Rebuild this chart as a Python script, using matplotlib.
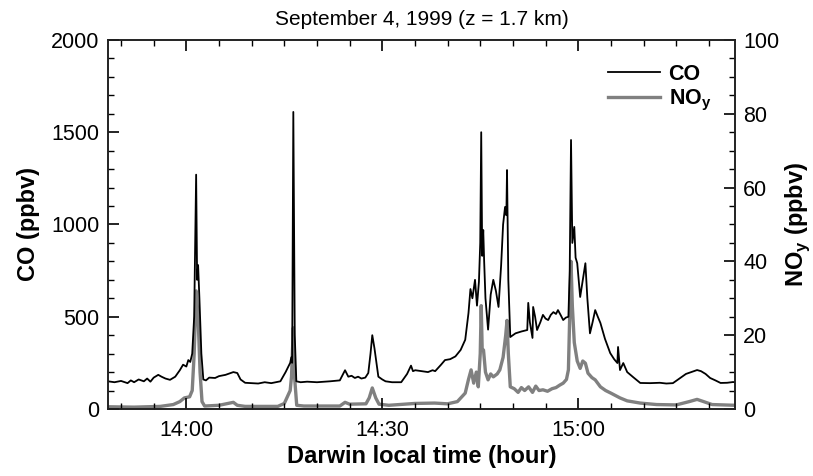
import numpy as np
import matplotlib
matplotlib.use("Agg")
import matplotlib.pyplot as plt
from matplotlib.ticker import MultipleLocator, FixedLocator

plt.rcParams['font.family'] = ['Liberation Sans', 'DejaVu Sans']

# time in minutes after 14:00 local time
t_co = [-12, -11, -10, -9, -8.5, -8, -7.3, -6.5, -6, -5.5, -5, -4.3, -3.8, -3.2, -2.5,
        -1.7, -1, -0.5, 0, 0.3, 0.6, 0.9, 1.2, 1.5, 1.65, 1.8, 2.0, 2.3, 2.6, 3, 3.5,
        4.4, 5, 6, 7.2, 7.8, 8.3, 9, 10, 11, 12, 13, 14.4, 15.2, 15.9, 16.07, 16.2,
        16.38, 16.6, 16.84, 17.5, 18.5, 20, 22, 23.5, 24.3, 24.8, 25.3, 25.8, 26.3,
        26.8, 27.4, 27.86, 28.2, 28.47, 28.8, 29.4, 30, 30.5, 31.5, 32.9, 33.8, 34.4,
        34.7, 35.05, 36, 37, 37.7, 38.1, 39, 39.6, 40.4, 41.2, 42, 42.7, 43.2, 43.5,
        43.8, 44.2, 44.5, 44.8, 45.0, 45.15, 45.3, 45.46, 45.6, 45.8, 46.2, 46.6, 47.0,
        47.4, 47.8, 48.2, 48.5, 48.8, 49.0, 49.1, 49.3, 49.6, 50.4, 51.3, 52.2, 52.35,
        52.6, 53.0, 53.1, 53.4, 53.7, 54.2, 54.6, 55.0, 55.4, 55.8, 56.2, 56.6, 56.9,
        57.3, 57.7, 58.1, 58.5, 58.7, 58.9, 59.1, 59.4, 59.6, 59.85, 60.3, 60.7, 61.1,
        61.4, 61.8, 62.2, 62.6, 63.0, 63.4, 64.1, 64.9, 65.5, 66.0, 66.1, 66.4, 66.9,
        67.5, 68.4, 69.5, 71, 72.5, 73.5, 74.5, 75.5, 76.5, 77.3, 78.2, 78.8, 79.5,
        80.2, 81, 81.8, 82.8, 83.7, 84]
co = [150, 145, 152, 140, 155, 145, 160, 150, 165, 148, 170, 185, 175, 165, 158,
      175, 210, 240, 230, 265, 255, 300, 500, 1270, 700, 780, 600, 300, 160, 155, 170,
      168, 178, 185, 200, 195, 160, 142, 140, 138, 145, 140, 150, 200, 250, 280, 250,
      1610, 400, 150, 145, 148, 145, 150, 155, 210, 175, 180, 168, 175,
      165, 170, 195, 300, 400, 330, 175, 160, 150, 145, 145, 190, 235,
      205, 210, 205, 200, 210, 205, 240, 265, 270, 285, 320, 375, 520, 650,
      600, 700, 560, 690, 900, 1500, 830, 970, 800, 600, 430, 620, 700,
      640, 553, 780, 1000, 1095, 1050, 1295, 700, 390, 410, 420, 428, 575,
      470, 385, 553, 500, 428, 470, 510, 490, 482, 510, 525, 515, 536,
      510, 482, 495, 500, 750, 1458, 900, 987, 820, 790, 607, 700, 790,
      600, 410, 470, 536, 500, 466, 380, 303, 270, 249, 336, 211, 249,
      200, 173, 141, 140, 142, 138, 140, 165, 190, 200, 211, 205, 190,
      168, 155, 141, 142, 146, 145]

t_noy = [-12, -8, -4, -2, -1, -0.3, 0.5, 0.9, 1.2, 1.5, 1.8, 2.1, 2.4, 2.8, 5, 7.2,
         7.8, 9, 14, 15, 15.9, 16.1, 16.38, 16.6, 16.9, 18, 23.5, 24.3, 25, 27.5, 28.0,
         28.47, 29, 29.5, 31, 35, 38, 40, 41.5, 42.7, 43.2, 43.6, 44, 44.4, 44.7, 45.0,
         45.15, 45.3, 45.5, 45.8, 46.2, 46.6, 47.0, 47.6, 48.0, 48.5, 48.9, 49.1, 49.3,
         49.6, 50.2, 50.8, 51.3, 51.8, 52.4, 53, 53.5, 54, 54.6, 55.3, 56, 56.6, 57.2,
         57.7, 58.2, 58.5, 58.9, 59.1, 59.4, 59.85, 60.3, 60.7, 61.1, 61.5, 62.1, 62.6,
         63.4, 64.2, 65, 66.4, 67.5, 69.5, 72, 75, 77, 78.2, 79.2, 80.5, 84]
noy = [0.6, 0.5, 0.7, 1.2, 2.0, 3.0, 3.3, 5, 15, 32, 25, 10, 2, 0.8, 1.0, 1.8,
       1.0, 0.7, 0.7, 1.5, 5, 8.7, 22, 8, 1, 0.8, 0.8, 1.8, 1.3, 1.4, 3,
       5.7, 3, 1.3, 1.0, 1.5, 1.6, 1.4, 2, 4.3, 8, 10.6, 7, 10, 6, 15,
       28, 16, 16, 10, 7.9, 9.5, 8.7, 9.5, 10.6, 14, 20, 24, 15,
       6, 5.5, 4.5, 5.8, 5, 6, 4.5, 6.2, 5, 5.2, 4.8, 5.5, 5.8, 6.5,
       7, 8, 10.6, 40, 28, 18, 13, 11, 13, 12.4, 9.7, 8.5, 7.9,
       6, 5, 4.3, 3, 2.2, 1.6, 1.2, 1.1, 2, 2.6, 2, 1.2, 1.0]

tick_min = [0, 30, 60]
tick_lbl = ['14:00', '14:30', '15:00']

fig = plt.figure(figsize=(8.13, 4.76), dpi=100)
ax = fig.add_axes([0.1328, 0.1408, 0.7712, 0.7752])
ax2 = ax.twinx()

# CO on top of NOy
ax.set_zorder(ax2.get_zorder() + 1)
ax.patch.set_visible(False)

ax.plot(t_co, co, color='black', lw=1.3, label='CO')
ax2.plot(t_noy, noy, color='#808080', lw=2.4, label='NO$_\\mathregular{y}$')

ax.set_xlim(-12, 84)
ax.set_ylim(0, 2000)
ax2.set_ylim(0, 100)

ax.xaxis.set_major_locator(FixedLocator(tick_min))
ax.set_xticklabels(tick_lbl)
ax.xaxis.set_minor_locator(MultipleLocator(5))
ax.yaxis.set_major_locator(MultipleLocator(500))
ax.yaxis.set_minor_locator(MultipleLocator(100))
ax2.yaxis.set_major_locator(MultipleLocator(20))
ax2.yaxis.set_minor_locator(MultipleLocator(5))

for a in (ax, ax2):
    a.tick_params(which='major', direction='in', length=8, width=1.2, labelsize=15.5, pad=6)
    a.tick_params(which='minor', direction='in', length=4.5, width=1.0)
    for s in a.spines.values():
        s.set_linewidth(1.2)
        s.set_color('#222222')
ax.tick_params(which='both', top=True, right=False)
ax.tick_params(axis='x', pad=8)

ax.set_xlabel('Darwin local time (hour)', fontsize=17, fontweight='bold', labelpad=3)
ax.set_ylabel('CO (ppbv)', fontsize=17, fontweight='bold', labelpad=8)
ax2.set_ylabel('NO$_\\mathregular{y}$ (ppbv)', fontsize=17, fontweight='bold', labelpad=3)
ax.set_title('September 4, 1999 (z = 1.7 km)', fontsize=15, pad=11)

h1, l1 = ax.get_legend_handles_labels()
h2, l2 = ax2.get_legend_handles_labels()
leg = ax.legend(h1 + h2, l1 + l2, loc='upper right', frameon=False,
                prop={'weight': 'bold', 'size': 15.5}, handlelength=2.4,
                handletextpad=0.4, labelspacing=0.15, borderaxespad=0.7)

fig.savefig('out.png', dpi=100)
